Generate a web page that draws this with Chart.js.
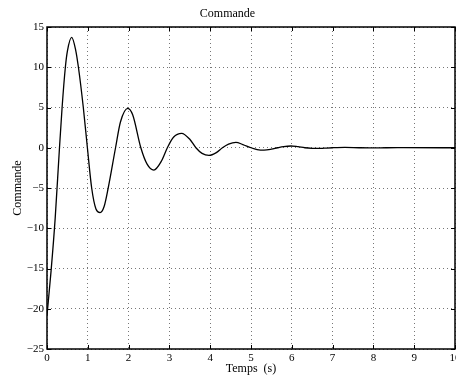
<!DOCTYPE html>
<html>
<head>
<meta charset="utf-8">
<script src="https://cdn.jsdelivr.net/npm/chart.js@4/dist/chart.umd.min.js"></script>
<style>
    body { margin: 0; background: #fff; }
    #wrap { width: 456px; height: 378px; position: relative; }
</style>
</head>
<body>
<div id="wrap"><canvas id="chart"></canvas></div>
<script>
// Data (time in s, command value)
const timeValues = [
    0, 0.1, 0.2, 0.3, 0.37, 0.45, 0.5, 0.605, 0.7, 0.77, 0.89, 0.99,
    1.095, 1.2, 1.3, 1.4, 1.5, 1.68, 1.8, 1.98, 2.1, 2.3, 2.45, 2.62,
    2.8, 2.95, 3.1, 3.3, 3.5, 3.65, 3.8, 3.97, 4.15, 4.3, 4.45, 4.63,
    4.8, 5.0, 5.15, 5.32, 5.5, 5.65, 5.8, 5.98, 6.15, 6.32, 6.5, 6.65,
    6.8, 7.0, 7.3, 7.65, 7.97, 8.3, 8.6, 10
];
const commandValues = [
    -20.8, -15.3, -8.8, -0.5, 5, 10, 12, 13.7, 12.2, 10, 5, 0,
    -5, -7.6, -8.05, -7.3, -5, 0, 3.2, 4.9, 4.1, 0, -2.0, -2.77,
    -1.7, 0, 1.3, 1.79, 1.05, 0, -0.7, -0.95, -0.6, 0, 0.45, 0.67,
    0.4, 0, -0.22, -0.3, -0.18, 0, 0.15, 0.22, 0.13, 0, -0.07, -0.09,
    -0.05, 0, 0.04, 0, -0.02, 0, 0.01, 0
];

const xTicks = [0, 1, 2, 3, 4, 5, 6, 7, 8, 9, 10];
const yTicks = [-25, -20, -15, -10, -5, 0, 5, 10, 15];

const serif = "'Liberation Serif', 'DejaVu Serif', serif";

// MATLAB-like frame with inside tick marks
const framePlugin = {
    id: "frame",
    afterDraw(chart) {
        const { ctx, chartArea: a, scales } = chart;
        ctx.save();
        ctx.strokeStyle = "#000";
        ctx.lineWidth = 1;
        ctx.beginPath();
        xTicks.forEach((v) => {
            const px = Math.round(scales.x.getPixelForValue(v)) + 0.5;
            ctx.moveTo(px, a.bottom); ctx.lineTo(px, a.bottom - 4);
            ctx.moveTo(px, a.top); ctx.lineTo(px, a.top + 4);
        });
        yTicks.forEach((v) => {
            const py = Math.round(scales.y.getPixelForValue(v)) + 0.5;
            ctx.moveTo(a.left, py); ctx.lineTo(a.left + 4, py);
            ctx.moveTo(a.right, py); ctx.lineTo(a.right - 4, py);
        });
        ctx.stroke();
        ctx.lineWidth = 1.5;
        ctx.strokeRect(a.left, a.top, a.right - a.left, a.bottom - a.top);
        ctx.restore();
    },
};

const points = timeValues.map((t, i) => ({ x: t, y: commandValues[i] }));

new Chart(document.getElementById("chart"), {
    type: "line",
    data: {
        datasets: [{
            data: points,
            borderColor: "#000",
            borderWidth: 1.3,
            pointRadius: 0,
            cubicInterpolationMode: "monotone",
            fill: false,
        }],
    },
    options: {
        responsive: true,
        maintainAspectRatio: false,
        animation: false,
        layout: { padding: { left: 0, right: 1, top: 0, bottom: 0 } },
        plugins: {
            legend: { display: false },
            tooltip: { enabled: false },
            title: {
                display: true,
                text: "Commande",
                color: "#000",
                font: { family: serif, size: 12, weight: "normal" },
                padding: { top: 7, bottom: 5.6 },
            },
        },
        scales: {
            x: {
                type: "linear",
                min: 0,
                max: 10,
                afterBuildTicks: (s) => { s.ticks = xTicks.map((v) => ({ value: v })); },
                afterFit: (s) => { s.height = 29; s.paddingLeft = 0; s.paddingRight = 0; },
                ticks: {
                    color: "#000",
                    padding: 3,
                    maxRotation: 0,
                    autoSkip: false,
                    font: { family: serif, size: 11 },
                },
                grid: { color: "#777", drawTicks: false, lineWidth: 1 },
                border: { display: false, dash: [1, 3] },
                title: {
                    display: true,
                    text: "Temps  (s)",
                    color: "#000",
                    font: { family: serif, size: 12 },
                    padding: { top: 0, bottom: 2.4 },
                },
            },
            y: {
                min: -25,
                max: 15,
                afterBuildTicks: (s) => { s.ticks = yTicks.map((v) => ({ value: v })); },
                afterFit: (s) => { s.width = 47; },
                ticks: {
                    color: "#000",
                    padding: 3,
                    autoSkip: false,
                    font: { family: serif, size: 11 },
                    callback: (v) => String(v).replace("-", "\u2212"),
                },
                grid: { color: "#777", drawTicks: false, lineWidth: 1 },
                border: { display: false, dash: [1, 3] },
                title: {
                    display: true,
                    text: "Commande",
                    color: "#000",
                    font: { family: serif, size: 12 },
                    padding: { top: 11, bottom: 0 },
                },
            },
        },
    },
    plugins: [framePlugin],
});
</script>
</body>
</html>
